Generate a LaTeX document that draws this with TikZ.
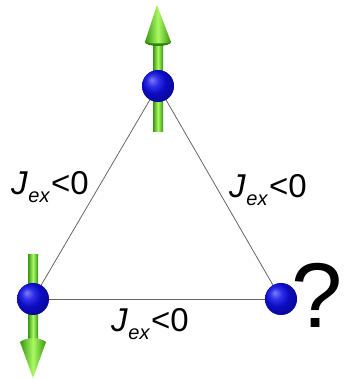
\documentclass[tikz,border=0pt]{standalone}
\usepackage{fontspec}
\setmainfont{Liberation Sans}
\newcommand{\jexlabel}{\textit{J}\kern0.5pt\raisebox{-8pt}{\fontsize{20}{20}\selectfont\textit{ex}}\kern1pt<0}
\tikzset{
  spinball/.style={circle, minimum size=32pt, inner sep=0pt, shading=ball, ball color={rgb,255:red,20;green,20;blue,235}},
  balltint/.style={fill={rgb,255:red,10;green,10;blue,230}, fill opacity=0.45},
  link/.style={draw=gray!80!black, line width=0.8pt},
  arrowbody/.style={left color={rgb,255:red,55;green,150;blue,15}, right color={rgb,255:red,55;green,150;blue,15}, middle color={rgb,255:red,170;green,250;blue,100}},
  arrowbase/.style={fill={rgb,255:red,50;green,130;blue,15}},
  coupling/.style={anchor=base west, inner sep=0pt, font=\fontsize{33}{33}\selectfont}
}
\begin{document}
\begin{tikzpicture}[x=1pt,y=1pt]
\useasboundingbox (0,0) rectangle (344,380);
% sites
\coordinate (pa) at (158,294);
\coordinate (pb) at (33,81);
\coordinate (pc) at (281,81);
% bonds
\draw[link] (pa) -- (pb);
\draw[link] (pa) -- (pc);
\draw[link] (pb) -- (pc);
% up arrow
\shade[arrowbody] (153,248) rectangle (163,338);
\fill[arrowbase] (158,338) ellipse (13 and 4);
\shade[arrowbody] (145,338) -- (157,375) -- (171,338) .. controls (165,336) and (151,336) .. cycle;
% down arrow
\shade[arrowbody] (28,38) rectangle (38,125);
\shade[arrowbody] (20,38) -- (33,2) -- (46,38) .. controls (40,43) and (26,43) .. cycle;
% balls
\node[spinball] (a) at (pa) {};
\node[spinball] (b) at (pb) {};
\node[spinball] (c) at (pc) {};
\fill[balltint] (pa) circle (16);
\fill[balltint] (pb) circle (16);
\fill[balltint] (pc) circle (16);
% labels
\node[coupling] (l1) at (11,185) {\jexlabel};
\node[coupling] (l2) at (229,182) {\jexlabel};
\node[coupling] (l3) at (111,48) {\jexlabel};
\node[anchor=base east, inner sep=0pt, font=\fontsize{92}{92}\selectfont] (q) at (343,52) {?};
\end{tikzpicture}
\end{document}
